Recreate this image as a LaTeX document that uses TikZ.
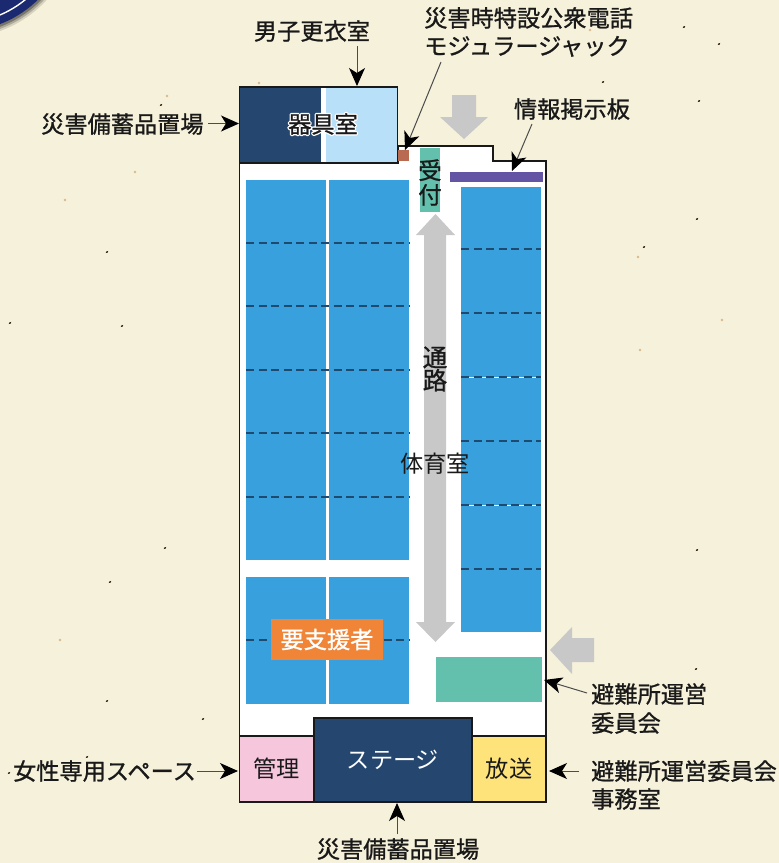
\documentclass[tikz,border=0pt]{standalone}
\usepackage{fontspec}
\usetikzlibrary{arrows.meta}
\setmainfont{Noto Sans CJK JP}[FakeBold=1]
\newfontfamily\plainf{Noto Sans CJK JP}
\definecolor{paper}{HTML}{F6F1DA}
\definecolor{navy}{HTML}{24466F}
\definecolor{emblem}{HTML}{1B2A70}
\definecolor{skyl}{HTML}{B8E0F8}
\definecolor{matblue}{HTML}{38A0DC}
\definecolor{teal}{HTML}{62C0AC}
\definecolor{purp}{HTML}{6455A4}
\definecolor{brick}{HTML}{B86B50}
\definecolor{orng}{HTML}{F08538}
\definecolor{pinkr}{HTML}{F5C6DC}
\definecolor{yellr}{HTML}{FDE379}
\definecolor{graya}{HTML}{C8C8C8}
\definecolor{dashc}{HTML}{1F4A70}
\newcommand{\halo}[1]{\makebox[0pt][c]{\plainf\color{white}\special{pdf:code 3 w 1 j 2 Tr}#1\special{pdf:code 0 Tr 1 w}}\makebox[0pt][c]{#1}}
\tikzset{
  x=1pt,y=-1pt,
  big/.style={font=\fontsize{23.2}{28}\selectfont},
  lbl/.style={big,text=black!90,inner sep=0pt},
  lbll/.style={lbl,align=left,anchor=west},
  room/.style={draw=black!90,line width=1.8pt},
  ptr/.style={draw=black!70,line width=1pt,-{Stealth[length=18pt,width=16pt,inset=5pt,color=black]}},
  mat/.style={fill=matblue,draw=none},
  sep/.style={draw=dashc,line width=1.4pt,dash pattern=on 8pt off 4.5pt},
  garrow/.style={fill=graya,draw=none},
  speck/.style={fill=black!70!brown,draw=none}
}
\begin{document}
\begin{tikzpicture}
\useasboundingbox (0,0) rectangle (779,863);
\fill[paper] (0,0) rectangle (779,863);
% corner emblem
\foreach \rr/\op in {118/0.12,116/0.2,114/0.3}{\fill[black,opacity=\op] (-40,-80) circle (\rr);}
\fill[emblem] (-40,-80) circle (111.5);
\draw[white,line width=1.4pt] (-40,-80) circle (103);
% specks
\foreach \sx/\sy in {107/252,161/105,684/27,719/44,699/101,603/82,697/219,644/247,107/701,203/719,9/773,87/757,696/669,10/323,122/326,165/548,110/582,697/550}{\fill[speck,rotate around={40:(\sx,\sy)}] (\sx,\sy) ellipse (1.6 and 0.9);}
\foreach \sx/\sy in {167/96,259/83,638/257,135/172,65/200,590/30,640/350,722/320,60/640}{\fill[brown!50!paper] (\sx,\sy) circle (1.3);}
% building
\fill[white,draw=black!90,line width=1.8pt] (239.5,163) -- (398,163) -- (398,146) -- (493,146) -- (493,161) -- (546,161) -- (546,802) -- (239.5,802) -- cycle;
% mats
\fill[mat] (246,180) rectangle (326,560);
\fill[mat] (329,180) rectangle (409,560);
\fill[mat] (246,577) rectangle (326,704);
\fill[mat] (329,577) rectangle (409,704);
\fill[mat] (461,187) rectangle (541,632);
\foreach \yy in {243,306,370,433,497,640}{\draw[sep] (246,\yy) -- (409,\yy);}
\foreach \yy in {377,505}{\draw[white,line width=1pt] (461,\yy) -- (541,\yy);}
\foreach \yy in {249,313,377,441,505,569}{\draw[sep] (461,\yy) -- (541,\yy);}
% grey arrows
\fill[garrow] (452,95) -- (476,95) -- (476,117) -- (488,117) -- (464,139) -- (440,117) -- (452,117) -- cycle;
\fill[garrow] (594,638) -- (572,638) -- (572,627) -- (550,650) -- (572,674) -- (572,662) -- (594,662) -- cycle;
\fill[garrow] (435.5,214) -- (455,235) -- (446,235) -- (446,622) -- (455,622) -- (435.5,642) -- (416,622) -- (424,622) -- (424,235) -- (416,235) -- cycle;
% rooms
\fill[navy] (239.5,87) rectangle (321,163);
\fill[white] (321,87) rectangle (326,163);
\fill[skyl] (326,87) rectangle (397.5,163);
\draw[room] (239.5,87) rectangle (397.5,163);
\node[lbl] (kigu) at (323,124) {\halo{器具室}};
\coordinate (kiguL) at (239,123.5);
\coordinate (kiguT) at (357,86);
\fill[brick] (398,150) rectangle (409,161);
\coordinate (jack) at (405,150);
\fill[teal] (420,148) rectangle (440,212);
\node[lbl,font=\fontsize{23.5}{24.5}\selectfont,align=center] (uke) at (430,182.5) {受\\付};
\fill[purp] (450,172) rectangle (543,182);
\coordinate (board) at (512,171);
\fill[teal] (436,657) rectangle (542,702);
\coordinate (cmte) at (544,680);
\node[big,fill=orng,minimum width=112pt,minimum height=41pt,inner sep=0pt,text=white] (yo) at (327,639.5) {要支援者};
\node[big,draw=black!90,line width=1.8pt,fill=navy,minimum width=158pt,minimum height=84pt,inner sep=0pt,text=white] (stage) at (393,760) {\plainf\raisebox{2pt}{ステージ}};
\node[big,draw=black!90,line width=1.8pt,fill=pinkr,minimum width=74.5pt,minimum height=66pt,inner sep=0pt,text=black!90] (kanri) at (276.7,769) {\plainf 管理};
\node[big,draw=black!90,line width=1.8pt,fill=yellr,minimum width=74pt,minimum height=66pt,inner sep=0pt,text=black!90] (hoso) at (509,769) {\plainf 放送};
\node[lbl,font=\fontsize{24.5}{23}\selectfont,align=center] (tsuro) at (435,369) {通\\路};
\node[lbl] (gym) at (435,464) {\plainf 体育室};
% labels
\node[lbl] (l1) at (312,31) {男子更衣室};
\node[lbll] (l2) at (41,124) {災害備蓄品置場};
\node[lbll] (l3) at (424,32) {災害時特設公衆電話\\モジュラージャック};
\node[lbl] (l4) at (572,109) {情報掲示板};
\node[lbll,font=\fontsize{23.2}{29}\selectfont] (l5) at (591,708.5) {避難所運営\\委員会};
\node[lbll] (l6) at (591,785) {避難所運営委員会\\事務室};
\node[lbl] (l7) at (104.5,771) {女性専用スペース};
\node[lbl] (l8) at (398,849) {災害備蓄品置場};
% connectors
\coordinate (s1) at (357,46);
\coordinate (s2) at (208,123.5);
\coordinate (s3) at (441,62);
\coordinate (s4) at (532,124);
\coordinate (s5) at (587,693);
\coordinate (s6) at (579,771);
\coordinate (s7) at (197,771);
\coordinate (s8) at (397,834);
\coordinate (t7) at (238,771);
\coordinate (t6) at (549,771);
\coordinate (t8) at (397,803);
\draw[ptr] (s1) -- (kiguT);
\draw[ptr] (s2) -- (kiguL);
\draw[ptr] (s3) -- (jack);
\draw[ptr] (s4) -- (board);
\draw[ptr] (s5) -- (cmte);
\draw[ptr] (s6) -- (t6);
\draw[ptr] (s7) -- (t7);
\draw[ptr] (s8) -- (t8);
\end{tikzpicture}
\end{document}
